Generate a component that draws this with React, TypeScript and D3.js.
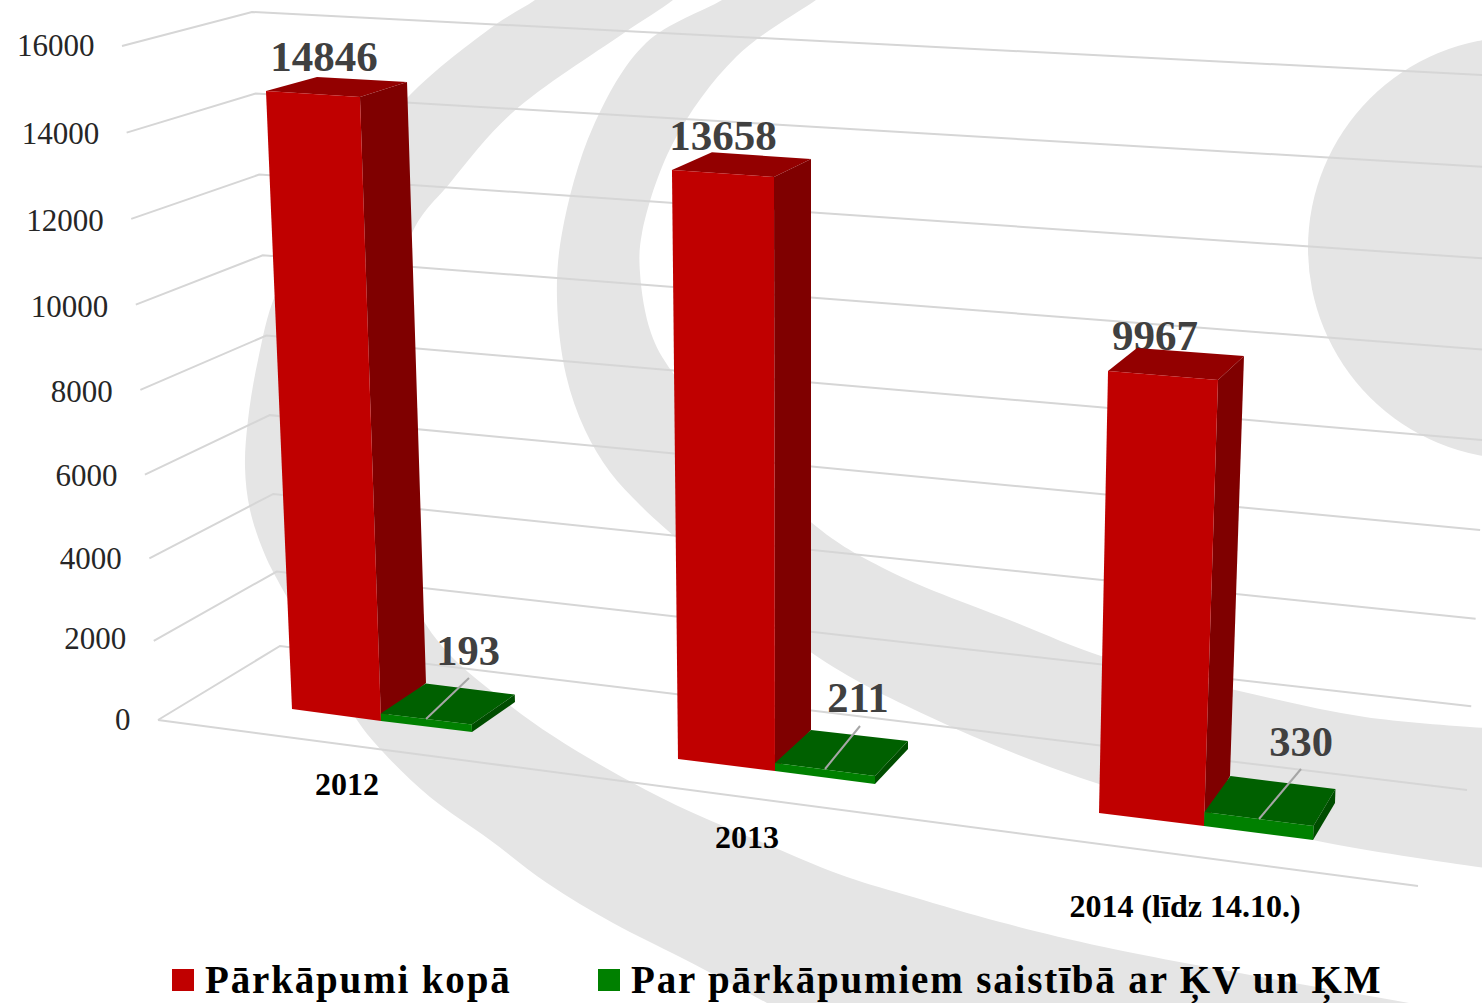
import React from "react";
import * as d3 from "d3";

// ---------- chart values ----------
const categories = ["2012", "2013", "2014 (līdz 14.10.)"];
const totalViolations = [14846, 13658, 9967];
const relatedViolations = [193, 211, 330];
const seriesNames = ["Pārkāpumi kopā", "Par pārkāpumiem saistībā ar ĶV un ĶM"];
const yTicks = [0, 2000, 4000, 6000, 8000, 10000, 12000, 14000, 16000];
const yMax = 16000;

// ---------- projection anchors: where each plot corner sits at value 0 and at yMax ----------
type P = [number, number];
const wallFront: [P, P] = [[158, 720], [122, 46]];
const wallBackLeft: [P, P] = [[280, 646], [252, 12]];
const wallBackRight: [P, P] = [[1467, 790], [1503, 76]];
const floorFrontRight: P = [1418, 886];

// corners: front-left, front-right, back-right, back-left
const redBase: P[][] = [
  [[292, 709], [381, 721], [426, 683], [337, 671]],
  [[678, 759], [775, 771], [811, 730], [714, 718]],
  [[1099, 813], [1204, 826], [1230, 776], [1125, 763]],
];
const redFull: P[][] = [
  [[263.9, 41.5], [358.3, 47], [405.5, 33.8], [315.4, 29.4]],
  [[670.9, 65.7], [773.8, 71.8], [811, 58], [711.6, 52]],
  [[1113.7, 93.4], [1226.8, 100], [1252.8, 92.2], [1144.5, 87.3]],
];
const greenBase: P[][] = [
  [[381, 721], [472, 732], [515, 702], [426, 691]],
  [[775, 771], [875, 784], [908, 749], [811, 738]],
  [[1204, 826], [1313, 840], [1335, 803], [1230, 790]],
];
const greenFull: P[][] = [
  [[356, 21], [447, 32], [490, 2], [401, -9]],
  [[775, 71], [875, 84], [908, 49], [811, 38]],
  [[1229, 66], [1338, 80], [1360, 43], [1255, 30]],
];

// ---------- label placement ----------
const tickLabelBaseline = [730, 649, 569, 486, 402, 317, 231, 144, 56];
const totalLabelAt: P[] = [[324, 71], [723, 150], [1155, 350]];
const relatedLabelAt: P[] = [[468, 665], [858, 712], [1301, 756]];
const leaders: [P, P][] = [
  [[426, 719], [469, 678]],
  [[825, 769], [860, 726]],
  [[1259, 819], [1301, 769]],
];
const categoryAt: P[] = [[347, 795], [747, 848], [1185, 917]];

// ---------- watermark outline ----------
const bandAOuter: P[] = [
  [560, -20], [535, 0], [495, 25], [408, 97], [335, 190], [276, 293], [258, 360], [248, 420], [245, 467], [250, 510],
  [265, 555], [283, 590], [357, 720], [383, 752], [430, 797], [490, 840], [547, 883], [613, 923], [680, 957],
  [730, 983], [767, 1003], [800, 1020],
];
const bandAInner: P[] = [
  [695, -20], [673, 0], [624, 33], [512, 113], [450, 183], [412, 233], [365, 430], [423, 620], [512, 707], [646, 790],
  [773, 847], [847, 877], [913, 897], [1000, 922], [1104, 947], [1278, 980], [1409, 1003], [1500, 1020],
];
const bandBOuter: P[] = [
  [745, -15], [722, 0], [646, 43], [593, 127], [562, 233], [557, 300], [566, 375], [585, 430], [610, 472], [640, 505],
  [675, 537], [812, 653], [930, 717], [1096, 783], [1313, 840], [1500, 870],
];
const bandBInner: P[] = [
  [838, -15], [816, 0], [736, 57], [673, 143], [642, 233], [640, 273], [651, 333], [673, 373], [812, 523], [887, 570],
  [1017, 623], [1104, 657], [1235, 690], [1365, 717], [1500, 729],
];

const valueT = d3.scalePow().exponent(1.03).domain([0, yMax]).range([0, 1]);
const at = (a: P, b: P, v: number): P => {
  const t = valueT(v);
  return [
    d3.scaleLinear().domain([0, 1]).range([a[0], b[0]])(t),
    d3.scaleLinear().domain([0, 1]).range([a[1], b[1]])(t),
  ];
};
const poly = d3.line<P>();
const closed = (pts: P[]) => poly(pts) + "Z";
const smooth = d3.line<P>().curve(d3.curveCatmullRom.alpha(0.5));
const band = (outer: P[], inner: P[]) =>
  smooth(outer) + (smooth([...inner].reverse()) as string).replace(/^M/, "L") + "Z";

function Box({ base, full, value, front, top, side }: { base: P[]; full: P[]; value: number; front: string; top: string; side: string }) {
  const up = base.map((b, i) => at(b, full[i], value));
  return (
    <g>
      <path d={closed([up[3], up[2], up[1], up[0]])} fill={top} />
      <path d={closed([base[1], base[2], up[2], up[1]])} fill={side} />
      <path d={closed([base[0], base[1], up[1], up[0]])} fill={front} />
    </g>
  );
}

const serif = "'Liberation Serif', 'Times New Roman', serif";
const GRID = "#d6d6d6";

export default function App() {
  return (
    <svg width={1482} height={1003} viewBox="0 0 1482 1003" style={{ position: "absolute", left: 0, top: 0, display: "block", background: "#fff" }} fontFamily={serif}>
      <path d={band(bandAOuter, bandAInner)} fill="#e5e5e5" />
      <path d={band(bandBOuter, bandBInner)} fill="#e5e5e5" />
      <circle cx={1519} cy={248} r={211} fill="#e5e5e5" />

      {yTicks.map((v, i) => {
        const a = at(wallFront[0], wallFront[1], v);
        const b = at(wallBackLeft[0], wallBackLeft[1], v);
        const c = at(wallBackRight[0], wallBackRight[1], v);
        return (
          <g key={v}>
            <path d={poly([a, b, c])!} fill="none" stroke={GRID} strokeWidth={2} />
            <text x={a[0] - 27.5} y={tickLabelBaseline[i]} textAnchor="end" fontSize={31} fill="#262626">{v}</text>
          </g>
        );
      })}
      <path d={poly([wallFront[0], floorFrontRight])!} fill="none" stroke={GRID} strokeWidth={2} />

      {totalViolations.map((v, i) => (
        <text key={i} x={totalLabelAt[i][0]} y={totalLabelAt[i][1]} textAnchor="middle" fontSize={43} fontWeight="bold" fill="#404040">{v}</text>
      ))}
      {relatedViolations.map((v, i) => (
        <text key={i} x={relatedLabelAt[i][0]} y={relatedLabelAt[i][1]} textAnchor="middle" fontSize={42.5} fontWeight="bold" fill="#404040">{v}</text>
      ))}

      {totalViolations.map((v, i) => (
        <Box key={i} base={redBase[i]} full={redFull[i]} value={v} front="#c00000" top="#930000" side="#7f0000" />
      ))}
      {relatedViolations.map((v, i) => (
        <Box key={i} base={greenBase[i]} full={greenFull[i]} value={v} front="#008000" top="#006000" side="#004d00" />
      ))}
      {leaders.map((l, i) => (
        <path key={i} d={poly(l)!} stroke="#a6a6a6" strokeWidth={2} fill="none" />
      ))}

      {categories.map((c, i) => (
        <text key={c} x={categoryAt[i][0]} y={categoryAt[i][1]} textAnchor="middle" fontSize={32} fontWeight="bold" fill="#000">{c}</text>
      ))}

      <rect x={172} y={969} width={22} height={22} fill="#c00000" />
      <text x={205} y={993} fontSize={39} fontWeight="bold" letterSpacing={1.85} fill="#000">{seriesNames[0]}</text>
      <rect x={598} y={969} width={22} height={22} fill="#008000" />
      <text x={631} y={993} fontSize={39} fontWeight="bold" letterSpacing={1.85} fill="#000">{seriesNames[1]}</text>
    </svg>
  );
}
